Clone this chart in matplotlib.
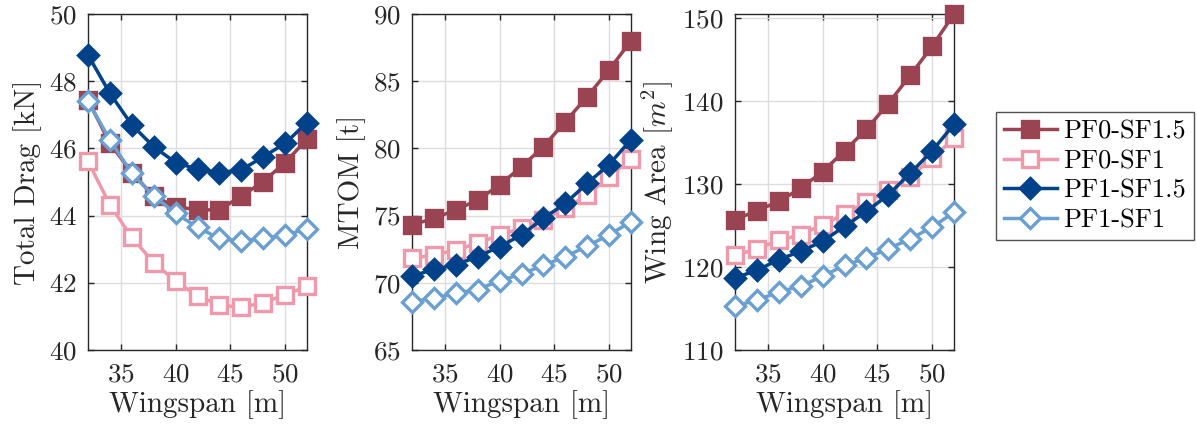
import matplotlib
matplotlib.use("Agg")
import matplotlib.pyplot as plt
import numpy as np

plt.rcParams['font.family'] = 'serif'
plt.rcParams['font.serif'] = ['cmr10']
plt.rcParams['mathtext.fontset'] = 'cm'
plt.rcParams['axes.formatter.use_mathtext'] = True

# wingspan sweep [m]
wingspan = [32, 34, 36, 38, 40, 42, 44, 46, 48, 50, 52]

# total drag [kN]
drag_pf0_sf15 = [47.44, 46.15, 45.28, 44.58, 44.27, 44.17, 44.17, 44.58, 45.01, 45.58, 46.27]
drag_pf0_sf1 = [45.62, 44.32, 43.35, 42.60, 42.05, 41.61, 41.34, 41.27, 41.41, 41.64, 41.90]
drag_pf1_sf15 = [48.78, 47.64, 46.70, 46.05, 45.58, 45.38, 45.28, 45.36, 45.75, 46.15, 46.77]
drag_pf1_sf1 = [47.41, 46.25, 45.26, 44.58, 44.07, 43.65, 43.32, 43.25, 43.32, 43.42, 43.60]

# maximum take-off mass [t]
mtom_pf0_sf15 = [74.30, 74.80, 75.42, 76.16, 77.28, 78.64, 80.13, 81.99, 83.85, 85.85, 88.00]
mtom_pf0_sf1 = [71.82, 72.07, 72.44, 72.94, 73.56, 74.05, 74.70, 75.54, 76.53, 77.90, 79.20]
mtom_pf1_sf15 = [70.50, 71.00, 71.35, 71.94, 72.69, 73.56, 74.79, 75.91, 77.40, 78.80, 80.65]
mtom_pf1_sf1 = [68.60, 68.85, 69.22, 69.50, 70.15, 70.65, 71.30, 71.94, 72.74, 73.56, 74.55]

# wing area [m^2]
area_pf0_sf15 = [125.7, 126.8, 127.9, 129.5, 131.5, 134.0, 136.6, 139.7, 143.1, 146.6, 150.5]
area_pf0_sf1 = [121.4, 122.2, 123.2, 123.9, 125.1, 126.4, 127.8, 129.3, 130.9, 133.1, 135.5]
area_pf1_sf15 = [118.7, 119.6, 120.9, 121.9, 123.1, 124.9, 126.7, 128.7, 131.3, 134.0, 137.2]
area_pf1_sf1 = [115.3, 116.0, 117.0, 117.7, 118.9, 120.2, 121.1, 122.2, 123.4, 124.8, 126.6]

labels = ['PF0-SF1.5', 'PF0-SF1', 'PF1-SF1.5', 'PF1-SF1']
colors = ['#994353', '#EE9AAC', '#00428A', '#6A9FD2']
markers = ['s', 's', 'D', 'D']
filled = [True, False, True, False]

panels = [
    ([drag_pf0_sf15, drag_pf0_sf1, drag_pf1_sf15, drag_pf1_sf1],
     'Total Drag [kN]', (40, 50), np.arange(40, 51, 2)),
    ([mtom_pf0_sf15, mtom_pf0_sf1, mtom_pf1_sf15, mtom_pf1_sf1],
     'MTOM [t]', (65, 90), np.arange(65, 91, 5)),
    ([area_pf0_sf15, area_pf0_sf1, area_pf1_sf15, area_pf1_sf1],
     'Wing Area [$m^2$]', (110, max(area_pf0_sf15)), np.arange(110, 151, 10)),
]

W, H = 1197, 429
fig = plt.figure(figsize=(W / 100, H / 100), dpi=100)
lefts = [88, 412, 735]
ax_w, top, bottom = 219, 14, 350
ink = '#262626'

handles = []
for left, (series, ylabel, ylim, yticks) in zip(lefts, panels):
    ax = fig.add_axes([left / W, 1 - bottom / H, ax_w / W, (bottom - top) / H])
    handles = []
    for y, lab, c, m, f in zip(series, labels, colors, markers, filled):
        ms = 12 if m == 's' else 10.5
        h, = ax.plot(wingspan, y, color=c, lw=2.5, marker=m, markersize=ms,
                     markerfacecolor=c if f else 'white', markeredgecolor=c,
                     markeredgewidth=2.4, label=lab, clip_on=False, zorder=3)
        handles.append(h)
    ax.set_xlim(32, 52)
    ax.set_ylim(*ylim)
    ax.set_xticks([35, 40, 45, 50])
    ax.set_yticks(yticks)
    ax.grid(True, color='#DDDDDD', lw=1.0)
    ax.set_axisbelow(True)
    ax.tick_params(direction='in', length=4, width=1, colors=ink,
                   top=True, right=True, labelsize=19.5)
    ax.tick_params(axis='x', pad=9)
    ax.tick_params(axis='y', pad=8)
    for s in ax.spines.values():
        s.set_color(ink)
        s.set_linewidth(1.0)
    ax.set_xlabel('Wingspan [m]', fontsize=21, color=ink, labelpad=3)
    ax.set_ylabel(ylabel, fontsize=21, color=ink, labelpad=5)

leg = fig.legend(handles=handles, loc='upper left',
                 bbox_to_anchor=(996 / W, 1 - 112 / H), borderaxespad=0,
                 fontsize=19, frameon=True, fancybox=False, edgecolor=ink,
                 handlelength=2.0, borderpad=0.3, labelspacing=0.22,
                 handletextpad=0.25)
leg.get_frame().set_linewidth(1.0)

fig.savefig('out.png', dpi=100)
